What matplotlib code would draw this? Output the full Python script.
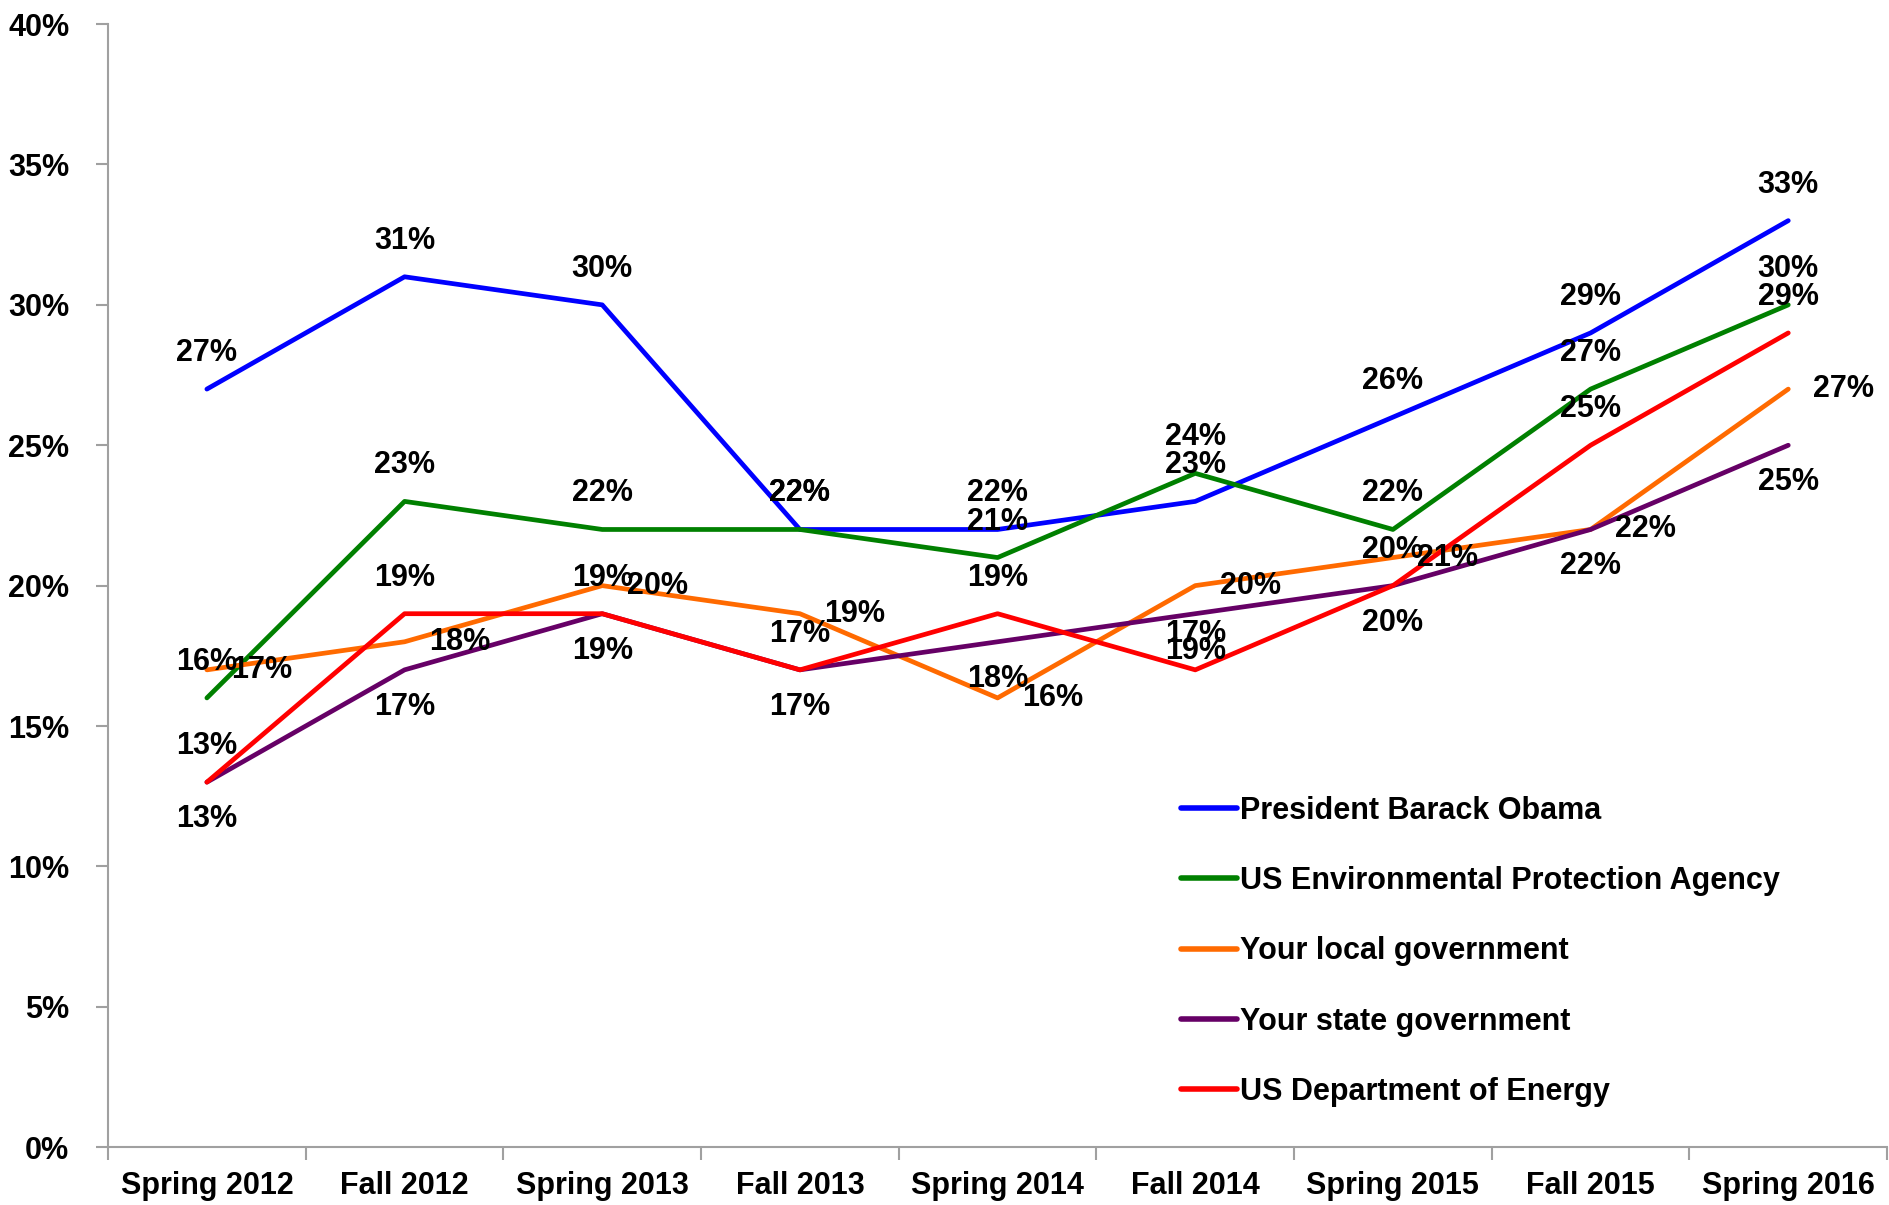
import matplotlib
matplotlib.use("Agg")
import matplotlib.pyplot as plt
from matplotlib.ticker import FixedLocator, PercentFormatter

categories = ["Spring 2012", "Fall 2012", "Spring 2013", "Fall 2013", "Spring 2014",
              "Fall 2014", "Spring 2015", "Fall 2015", "Spring 2016"]
obama = [27, 31, 30, 22, 22, 23, 26, 29, 33]
epa = [16, 23, 22, 22, 21, 24, 22, 27, 30]
local_gov = [17, 18, 20, 19, 16, 20, 21, 22, 27]
state_gov = [13, 17, 19, 17, 18, 19, 20, 22, 25]
doe = [13, 19, 19, 17, 19, 17, 20, 25, 29]

series_names = ["President Barack Obama", "US Environmental Protection Agency",
                "Your local government", "Your state government", "US Department of Energy"]
series_values = [obama, epa, local_gov, state_gov, doe]
colors = ["#0000FF", "#008000", "#FF6A00", "#660066", "#FF0000"]
label_pos = ["above", "above", "right", "below", "above"]

plt.rcParams['font.family'] = ['Liberation Sans', 'DejaVu Sans']
plt.rcParams['font.weight'] = 'bold'

fig = plt.figure(figsize=(18.89, 12.05), dpi=100)
ax = fig.add_axes([0.0572, 0.048, 0.9418, 0.932])

x = list(range(len(categories)))
fs = 22
for name, vals, c in zip(series_names, series_values, colors):
    ax.plot(x, vals, color=c, lw=3.4, label=name, solid_capstyle='round', solid_joinstyle='round')

offsets = {"above": (0, 36), "right": (55, 0), "below": (0, -37)}
for vals, pos in zip(series_values, label_pos):
    dx, dy = offsets[pos]
    for xi, v in zip(x, vals):
        ax.annotate(f"{v}%", (xi, v), xytext=(dx, dy), textcoords='offset pixels',
                    ha='center', va='center', fontsize=fs, fontweight='bold', color='black')

ax.set_xlim(-0.5, len(categories) - 0.5)
ax.set_ylim(0, 40)
ax.yaxis.set_major_locator(FixedLocator(range(0, 41, 5)))
ax.yaxis.set_major_formatter(PercentFormatter(decimals=0))
ax.set_xticks(x)
ax.set_xticklabels(categories)
ax.xaxis.set_minor_locator(FixedLocator([i - 0.5 for i in range(len(categories) + 1)]))

gray = "#A0A0A0"
for s in ["top", "right"]:
    ax.spines[s].set_visible(False)
for s in ["left", "bottom"]:
    ax.spines[s].set_color(gray)
    ax.spines[s].set_linewidth(1.5)
ax.tick_params(axis='y', which='major', direction='out', length=9, width=1.5, color=gray,
               labelsize=fs, pad=19)
ax.tick_params(axis='x', which='major', length=0, labelsize=fs, pad=17)
ax.tick_params(axis='x', which='minor', direction='out', length=9, width=1.5, color=gray)
for lbl in ax.get_xticklabels() + ax.get_yticklabels():
    lbl.set_fontweight('bold')

leg = ax.legend(loc='upper left', bbox_to_anchor=(0.603, 0.313), frameon=False,
                handlelength=1.83, handletextpad=0.1, labelspacing=1.32,
                borderpad=0, borderaxespad=0, prop={'weight': 'bold', 'size': fs})
for h in leg.get_lines():
    h.set_linewidth(4)

fig.savefig("out.png", dpi=100)
